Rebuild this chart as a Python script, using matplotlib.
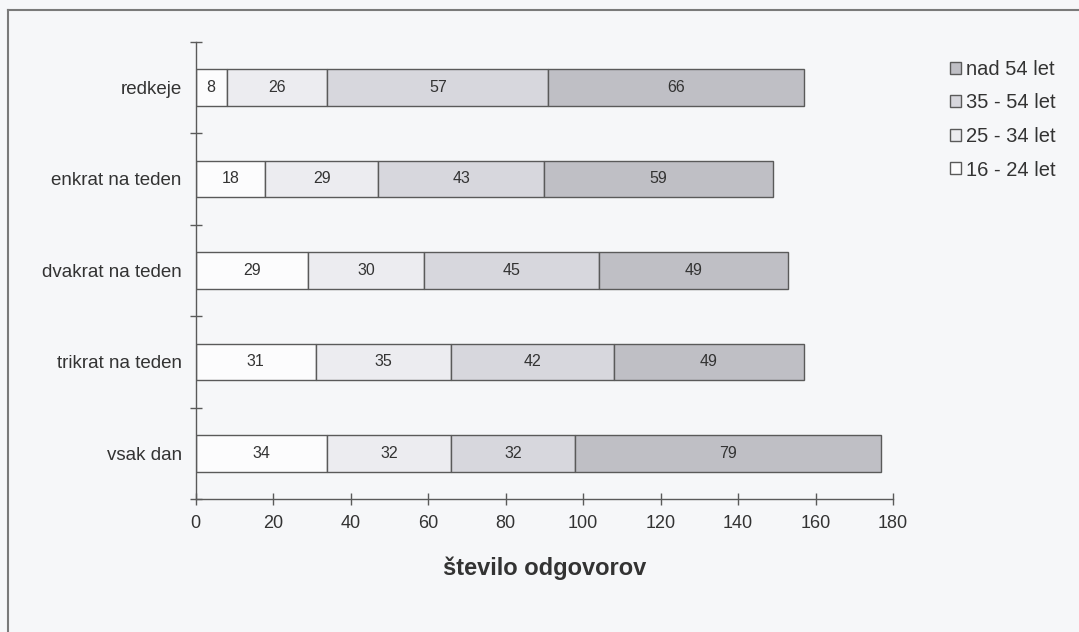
import matplotlib.pyplot as plt
from matplotlib.lines import Line2D

plt.rcParams['font.family'] = ['Liberation Sans', 'DejaVu Sans']

# data, bottom-to-top order of the bars
categories = ['vsak dan', 'trikrat na teden', 'dvakrat na teden', 'enkrat na teden', 'redkeje']
age_groups = ['16 - 24 let', '25 - 34 let', '35 - 54 let', 'nad 54 let']
v_16_24 = [34, 31, 29, 18, 8]
v_25_34 = [32, 35, 30, 29, 26]
v_35_54 = [32, 42, 45, 43, 57]
v_nad54 = [79, 49, 49, 59, 66]
xticks = [0, 20, 40, 60, 80, 100, 120, 140, 160, 180]

series = [v_16_24, v_25_34, v_35_54, v_nad54]
colors = ['#fcfcfd', '#ececf0', '#d7d7dd', '#bfbfc5']
bg = '#f6f7f9'
txt = '#333333'
edge = '#5a5a5a'

fig = plt.figure(figsize=(10.79, 6.32), dpi=100, facecolor=bg)
ax = fig.add_axes([0.1814, 0.2104, 0.6462, 0.7236])
ax.set_facecolor(bg)

ypos = list(range(len(categories)))
left = [0] * len(categories)
handles = []
for vals, col, name in zip(series, colors, age_groups):
    bars = ax.barh(ypos, vals, left=left, height=0.4, color=col,
                   edgecolor=edge, linewidth=1.0, label=name)
    ax.bar_label(bars, labels=[str(v) for v in vals], label_type='center',
                 fontsize=11.5, color=txt)
    left = [a + b for a, b in zip(left, vals)]
    handles.append(bars)

ax.set_xlim(0, 180)
ax.set_ylim(-0.5, len(categories) - 0.5)
ax.set_xticks(xticks)
ax.set_xticklabels([str(t) for t in xticks], fontsize=13, color=txt)
ax.set_yticks(ypos)
ax.set_yticklabels(categories, fontsize=13.5, color=txt)
ax.set_yticks([y - 0.5 for y in range(len(categories) + 1)], minor=True)
ax.tick_params(axis='y', which='major', length=0, pad=10)
ax.tick_params(axis='y', which='minor', direction='inout', length=9, width=1, color=edge)
ax.tick_params(axis='x', direction='inout', length=9, width=1, color=edge, pad=7)

for side in ['top', 'right']:
    ax.spines[side].set_visible(False)
for side in ['left', 'bottom']:
    ax.spines[side].set_color(edge)
    ax.spines[side].set_linewidth(1.0)

ax.set_xlabel('število odgovorov', fontsize=17, fontweight='bold', color=txt, labelpad=18)

fig.legend(handles[::-1], age_groups[::-1], loc='upper left',
           bbox_to_anchor=(950 / 1079, 1 - 60 / 632), frameon=False,
           fontsize=14.5, handlelength=0.55, handleheight=0.55, handletextpad=0.25,
           labelspacing=0.72, borderpad=0, borderaxespad=0, labelcolor=txt)

# chart area frame (runs off right and bottom edges in the scan)
fig.add_artist(Line2D([8 / 1079, 1.0], [1 - 10 / 632] * 2, color='#7a7a7a', lw=1.5))
fig.add_artist(Line2D([8 / 1079] * 2, [0.0, 1 - 10 / 632], color='#7a7a7a', lw=1.5))

fig.savefig('out.png', dpi=100, facecolor=bg)
